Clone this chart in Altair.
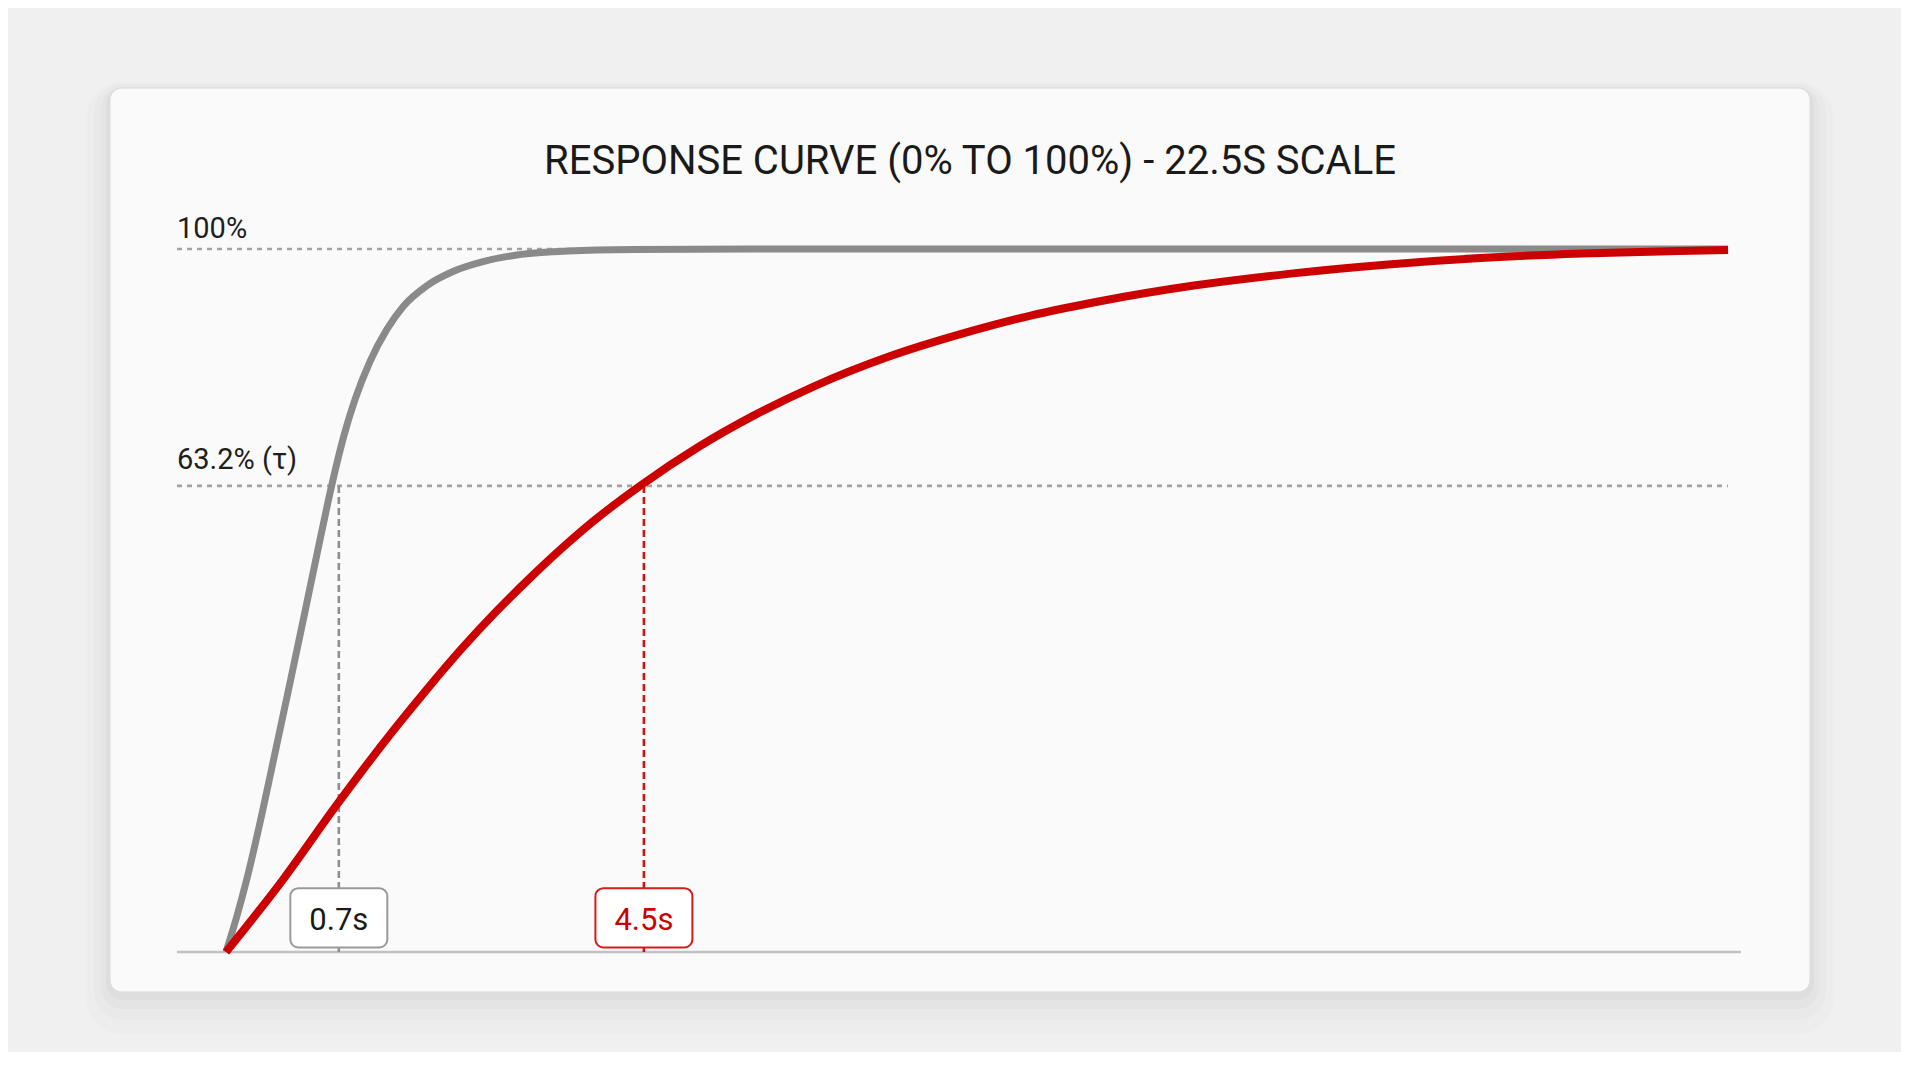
import altair as alt
import pandas as pd

TITLE = "RESPONSE CURVE (0% TO 100%) - 22.5S SCALE"

# fast response (grey)  -- time (s on the drawn scale), response (%)
fast_t = [0.0, 0.160, 0.310, 0.535, 0.734, 0.959, 1.183, 1.378, 1.528, 1.648, 1.768,
          1.933, 2.157, 2.412, 2.651, 3.011, 3.400, 3.850, 4.359, 5.123, 6.112, 7.849, 22.5]
fast_v = [0.0, 5.0, 10.3, 19.5, 28.3, 38.3, 48.4, 57.3, 64.0, 69.0, 73.5,
          78.6, 84.0, 88.6, 91.8, 94.8, 96.8, 98.2, 99.15, 99.72, 99.92, 99.99, 100.0]

# slow response (red)
slow_t = [0.0, 0.854, 1.633, 2.057, 2.557, 3.056, 3.554, 4.055, 4.554, 5.052, 5.467,
          6.216, 7.070, 7.924, 8.793, 9.931, 11.08, 12.04, 13.05, 14.50, 15.95, 17.41,
          18.86, 20.31, 21.76, 22.5]
slow_v = [0.0, 10.3, 20.6, 26.0, 32.1, 37.9, 43.4, 48.5, 53.2, 57.6, 61.0,
          66.4, 71.8, 76.4, 80.4, 84.7, 88.1, 90.5, 92.5, 94.8, 96.5, 97.8,
          98.75, 99.35, 99.72, 99.85]

# time-constant markers
marker_t = [1.69, 6.26]
marker_label = ["0.7s", "4.5s"]

# reference levels
ref_levels = [100.0, 66.3]
ref_labels = ["100%", "63.2% (τ)"]

X_DOMAIN = [-0.734, 22.694]
T_END = 22.5
W, H = 1564, 703
GRAY = "#8a8a8a"
RED = "#cc0000"
FONT = "Roboto"
marker_colors = ["#8f8f8f", "#d01414"]
marker_box_stroke = ["#9a9a9a", "#d41c1c"]
marker_text_color = ["#1a1a1a", "#cc0000"]
ref_label_raise = [11.3, 17.0]

xs = alt.Scale(domain=X_DOMAIN, nice=False, zero=False)
ys = alt.Scale(domain=[0, 100], nice=False, zero=False)

one = pd.DataFrame({"a": [0]})
curves = pd.DataFrame({
    "t": fast_t + slow_t,
    "v": fast_v + slow_v,
    "s": ["fast"] * len(fast_t) + ["slow"] * len(slow_t),
})

X = lambda f: alt.X(f, scale=xs, axis=None)
Y = lambda f: alt.Y(f, scale=ys, axis=None)

layers = []

# card shadow + card
CARD = dict(x0=-67, x1=1633, y0=-161, y1=743)
for spread, dy, op in [(24, 18, 0.010), (16, 12, 0.014), (9, 8, 0.018), (4, 4, 0.025)]:
    layers.append(
        alt.Chart(one).mark_rect(color="#000000", opacity=op, cornerRadius=12 + spread).encode(
            x=alt.value(CARD["x0"] - spread), x2=alt.value(CARD["x1"] + spread),
            y=alt.value(CARD["y0"] - spread + dy), y2=alt.value(CARD["y1"] + spread + dy))
    )
layers.append(
    alt.Chart(one).mark_rect(fill="#fafafa", stroke="#dcdcdc", strokeWidth=1, cornerRadius=12).encode(
        x=alt.value(CARD["x0"]), x2=alt.value(CARD["x1"]),
        y=alt.value(CARD["y0"]), y2=alt.value(CARD["y1"]))
)

# baseline
base_df = pd.DataFrame({"t0": [X_DOMAIN[0]], "t1": [X_DOMAIN[1]], "v": [0.0]})
layers.append(
    alt.Chart(base_df).mark_rule(color="#c2c2c2", strokeWidth=2.5).encode(
        x=X("t0:Q"), x2="t1:Q", y=Y("v:Q"))
)

# dotted reference lines + labels
for lvl, lab, raise_px in zip(ref_levels, ref_labels, ref_label_raise):
    d = pd.DataFrame({"t0": [X_DOMAIN[0]], "t1": [T_END], "level": [lvl], "label": [lab]})
    layers.append(
        alt.Chart(d).mark_rule(color="#a2a2a2", strokeWidth=2.6, strokeDash=[5, 5]).encode(
            x=X("t0:Q"), x2="t1:Q", y=Y("level:Q"))
    )
    layers.append(
        alt.Chart(d).mark_text(align="left", baseline="alphabetic", font=FONT, fontSize=29,
                               color="#1e1e1e", dy=-raise_px).encode(
            x=X("t0:Q"), y=Y("level:Q"), text="label:N")
    )

# vertical dashed drop lines
for t, col in zip(marker_t, marker_colors):
    d = pd.DataFrame({"t": [t], "top": [ref_levels[1]], "bottom": [0.0]})
    layers.append(
        alt.Chart(d).mark_rule(color=col, strokeWidth=2.6, strokeDash=[7, 4]).encode(
            x=X("t:Q"), y=Y("top:Q"), y2="bottom:Q")
    )

# curves
layers.append(
    alt.Chart(curves).transform_filter("datum.s == 'fast'").mark_line(
        color=GRAY, strokeWidth=7, interpolate="monotone").encode(x=X("t:Q"), y=Y("v:Q"))
)
layers.append(
    alt.Chart(curves).transform_filter("datum.s == 'slow'").mark_line(
        color=RED, strokeWidth=8, interpolate="monotone").encode(x=X("t:Q"), y=Y("v:Q"))
)

# marker boxes + labels
for t, lab, sc, tc in zip(marker_t, marker_label, marker_box_stroke, marker_text_color):
    d = pd.DataFrame({"t": [t], "label": [lab], "base": [0.0]})
    layers.append(
        alt.Chart(d).mark_rect(fill="#ffffff", stroke=sc, strokeWidth=2, cornerRadius=8,
                               xOffset=-48.5, x2Offset=48.5, yOffset=-63.8, y2Offset=-4.5).encode(
            x=X("t:Q"), x2="t:Q", y=Y("base:Q"), y2="base:Q")
    )
    layers.append(
        alt.Chart(d).mark_text(font=FONT, fontSize=31, color=tc, align="center",
                               baseline="alphabetic", dy=-22.2).encode(
            x=X("t:Q"), y=Y("base:Q"), text="label:N")
    )

# title
layers.append(
    alt.Chart(one).mark_text(text=TITLE, font=FONT, fontSize=40, color="#1a1a1a",
                             align="center", baseline="alphabetic").encode(
        x=alt.value(793), y=alt.value(-75))
)

chart = alt.layer(*layers).properties(
    width=W, height=H,
    padding={"left": 169, "top": 241, "right": 160, "bottom": 100},
    autosize=alt.AutoSizeParams(type="none"),
    background="#f0f0f0",
).configure_view(stroke=None)

chart.save("out.html", embed_options={"renderer": "svg", "actions": False})
